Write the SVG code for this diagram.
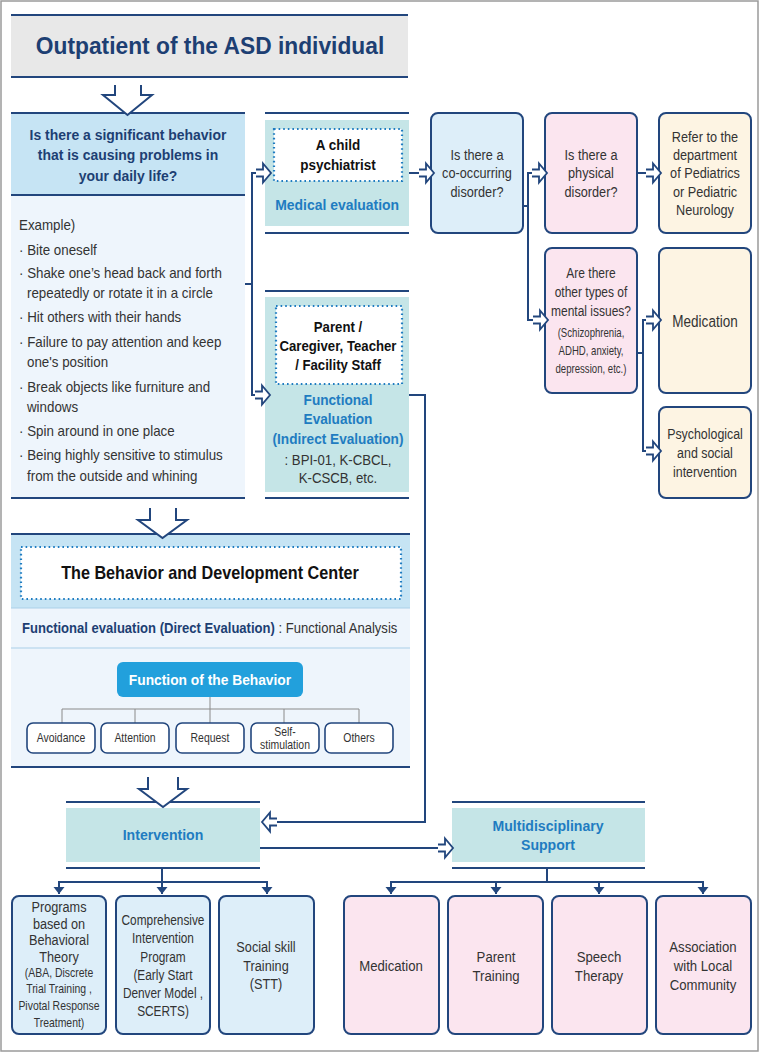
<svg xmlns="http://www.w3.org/2000/svg" width="763" height="1053" viewBox="0 0 763 1053">
<style>
text{font-family:"Liberation Sans",Arial,sans-serif;}
.c{text-anchor:middle}
.reg{fill:#333;font-size:15px}
.sm{fill:#333;font-size:12px}
.bk{fill:#111;font-size:15px;font-weight:bold}
.bl{fill:#1f7cc1;font-size:15.5px;font-weight:bold}
.nv{fill:#1d3f73;font-weight:bold}
.hl{stroke:#22467d;stroke-width:2.2;fill:none}
.lt{stroke:#a9cfe8;stroke-width:1.2;fill:none}
.con{stroke:#22467d;stroke-width:2;fill:none}
.box{stroke:#22467d;stroke-width:2}
.dot{fill:#fff;stroke:#1f7cc1;stroke-width:2.2;stroke-dasharray:1.6 3}
.tree{stroke:#8a8a8a;stroke-width:1;fill:none}
.sb{fill:#fff;stroke:#22467d;stroke-width:1.6}
.bigarrow{fill:#fff;stroke:#22467d;stroke-width:2;stroke-linejoin:miter}
.ex{fill:#333;font-size:14.5px}
</style>
<defs>
<marker id="ha" markerUnits="userSpaceOnUse" orient="auto" viewBox="-17 -12 19 24" refX="0" refY="0" markerWidth="19" markerHeight="24" overflow="visible">
<path d="M-15,-3.5 L-8,-3.5 L-8,-9.5 L0,0 L-8,9.5 L-8,3.5 L-15,3.5" fill="#fff" stroke="#22467d" stroke-width="1.8"/>
</marker>
<marker id="tri" markerUnits="userSpaceOnUse" orient="auto" viewBox="-8 -6 9 12" refX="0" refY="0" markerWidth="9" markerHeight="12" overflow="visible">
<path d="M-7,-5.5 L0,0 L-7,5.5 z" fill="#22467d"/>
</marker>
</defs>

<rect x="1" y="1" width="757" height="1050" fill="#fff" stroke="#9a9a9a" stroke-width="1.5"/>

<g id="title">
<rect x="11" y="15" width="397" height="62" fill="#e8e8e8"/>
<line class="hl" x1="11" y1="15" x2="408" y2="15"/>
<line class="hl" x1="11" y1="77" x2="408" y2="77"/>
<g transform="translate(210 0) scale(0.95 1)">
<text x="0" y="54" class="c nv" style="font-size:24px">Outpatient of the ASD individual</text>
</g>
</g>

<g id="question">
<rect x="11" y="114" width="234" height="81" fill="#c6e4f4"/>
<rect x="11" y="196" width="234" height="302" fill="#eef5fc"/>
<line class="hl" x1="11" y1="113" x2="245" y2="113"/>
<line class="hl" x1="11" y1="195" x2="245" y2="195"/>
<line class="hl" x1="11" y1="498" x2="245" y2="498"/>
<g transform="translate(128 0) scale(0.9 1)">
<text class="c nv" style="font-size:15.5px" x="0" y="140">Is there a significant behavior</text>
<text class="c nv" style="font-size:15.5px" x="0" y="160">that is causing problems in</text>
<text class="c nv" style="font-size:15.5px" x="0" y="181">your daily life?</text>
</g>
<g transform="translate(19 0) scale(0.92 1)">
<text class="ex" x="0" y="230">Example)</text>
<text class="ex" x="0" y="255">· Bite oneself</text>
<text class="ex" x="0" y="278">· Shake one’s head back and forth</text>
<text class="ex" x="8.7" y="298">repeatedly or rotate it in a circle</text>
<text class="ex" x="0" y="322">· Hit others with their hands</text>
<text class="ex" x="0" y="347">· Failure to pay attention and keep</text>
<text class="ex" x="8.7" y="367">one's position</text>
<text class="ex" x="0" y="392">· Break objects like furniture and</text>
<text class="ex" x="8.7" y="412">windows</text>
<text class="ex" x="0" y="436">· Spin around in one place</text>
<text class="ex" x="0" y="460">· Being highly sensitive to stimulus</text>
<text class="ex" x="8.7" y="481">from the outside and whining</text>
</g>
</g>

<g id="medical">
<rect x="265" y="120" width="144" height="106" fill="#c5e5e7"/>
<line class="hl" x1="265" y1="113" x2="409" y2="113"/>
<line class="hl" x1="265" y1="233" x2="409" y2="233"/>
<rect class="dot" x="274" y="129" width="128" height="52"/>
<g transform="translate(338 0) scale(0.9 1)">
<text class="c bk" x="0" y="150">A child</text>
<text class="c bk" x="0" y="170">psychiatrist</text>
<text class="c bl" x="-1" y="210">Medical evaluation</text>
</g>
</g>

<g id="functional">
<rect x="265" y="297" width="144" height="195" fill="#c5e5e7"/>
<line class="hl" x1="265" y1="291" x2="409" y2="291"/>
<line class="hl" x1="265" y1="498" x2="409" y2="498"/>
<rect class="dot" x="276" y="306" width="126" height="78"/>
<g transform="translate(338 0) scale(0.88 1)">
<text class="c bk" x="0" y="332">Parent /</text>
<text class="c bk" x="0" y="351">Caregiver, Teacher</text>
<text class="c bk" x="0" y="370">/ Facility Staff</text>
<text class="c bl" x="0" y="405">Functional</text>
<text class="c bl" x="0" y="424">Evaluation</text>
<text class="c bl" x="0" y="444">(Indirect Evaluation)</text>
<text class="c reg" x="0" y="465">: BPI-01, K-CBCL,</text>
<text class="c reg" x="0" y="483">K-CSCB, etc.</text>
</g>
</g>

<g id="cooccurring">
<rect class="box" x="431" y="113" width="92" height="120" rx="7" fill="#ddeef9"/>
<g transform="translate(477 0) scale(0.82 1)">
<text class="c reg" x="0" y="160" style="font-size:15.5px">Is there a</text>
<text class="c reg" x="0" y="178" style="font-size:15.5px">co-occurring</text>
<text class="c reg" x="0" y="197" style="font-size:15.5px">disorder?</text>
</g>
</g>

<g id="physical">
<rect class="box" x="545" y="113" width="92" height="120" rx="7" fill="#fbe5ef"/>
<g transform="translate(591 0) scale(0.82 1)">
<text class="c reg" x="0" y="160" style="font-size:15.5px">Is there a</text>
<text class="c reg" x="0" y="178" style="font-size:15.5px">physical</text>
<text class="c reg" x="0" y="197" style="font-size:15.5px">disorder?</text>
</g>
</g>

<g id="refer">
<rect class="box" x="659" y="113" width="92" height="120" rx="7" fill="#fdf4e3"/>
<g transform="translate(705 0) scale(0.82 1)">
<text class="c reg" x="0" y="142" style="font-size:15.5px">Refer to the</text>
<text class="c reg" x="0" y="160" style="font-size:15.5px">department</text>
<text class="c reg" x="0" y="178" style="font-size:15.5px">of Pediatrics</text>
<text class="c reg" x="0" y="197" style="font-size:15.5px">or Pediatric</text>
<text class="c reg" x="0" y="215" style="font-size:15.5px">Neurology</text>
</g>
</g>

<g id="mental">
<rect class="box" x="545" y="248" width="92" height="145" rx="7" fill="#fbe5ef"/>
<g transform="translate(591 0) scale(0.8 1)">
<text class="c reg" x="0" y="278">Are there</text>
<text class="c reg" x="0" y="297">other types of</text>
<text class="c reg" x="0" y="316">mental issues?</text>
<text class="c sm" x="0" y="337">(Schizophrenia,</text>
<text class="c sm" x="0" y="355">ADHD, anxiety,</text>
<text class="c sm" x="0" y="373">depression, etc.)</text>
</g>
</g>

<g id="medication1">
<rect class="box" x="659" y="248" width="92" height="145" rx="7" fill="#fdf4e3"/>
<g transform="translate(705 0) scale(0.82 1)">
<text class="c reg" x="0" y="327" style="font-size:16.5px">Medication</text>
</g>
</g>

<g id="psychological">
<rect class="box" x="659" y="407" width="92" height="91" rx="7" fill="#fdf4e3"/>
<g transform="translate(705 0) scale(0.8 1)">
<text class="c reg" x="0" y="439" style="font-size:15.5px">Psychological</text>
<text class="c reg" x="0" y="458" style="font-size:15.5px">and social</text>
<text class="c reg" x="0" y="477" style="font-size:15.5px">intervention</text>
</g>
</g>

<g id="center">
<rect x="11" y="535" width="399" height="73" fill="#c6e4f4"/>
<rect x="11" y="608" width="399" height="159" fill="#eef5fc"/>
<line class="hl" x1="11" y1="534" x2="410" y2="534"/>
<line class="lt" x1="11" y1="608" x2="410" y2="608"/>
<line class="lt" x1="11" y1="648" x2="410" y2="648"/>
<line class="hl" x1="11" y1="767" x2="410" y2="767"/>
<rect class="dot" x="21" y="547" width="380" height="52"/>
<g transform="translate(210 0) scale(0.9 1)">
<text class="c" x="0" y="579" style="font-size:18px;font-weight:bold;fill:#111">The Behavior and Development Center</text>
</g>
<g transform="translate(22 0) scale(0.9 1)">
<text x="0" y="633" style="font-size:14.5px"><tspan style="font-weight:bold;fill:#1d3f73">Functional evaluation (Direct Evaluation)</tspan><tspan style="fill:#333"> : Functional Analysis</tspan></text>
</g>
</g>

<g id="function">
<rect x="117" y="662" width="186" height="35" rx="6" fill="#22a0dc"/>
<g transform="translate(210 0) scale(0.89 1)">
<text class="c" x="0" y="685" style="font-size:15.5px;font-weight:bold;fill:#fff">Function of the Behavior</text>
</g>
<path class="tree" d="M210,697 V709 M62,709 H359 M62,709 V723 M135,709 V723 M210,709 V723 M284,709 V723 M359,709 V723"/>
</g>
<g id="avoidance"><rect class="sb" x="27" y="723" width="68" height="30" rx="6"/><g transform="translate(61 0) scale(0.87 1)"><text class="c sm" x="0" y="742" style="font-size:12px">Avoidance</text></g></g>
<g id="attention"><rect class="sb" x="101" y="723" width="68" height="30" rx="6"/><g transform="translate(135 0) scale(0.87 1)"><text class="c sm" x="0" y="742" style="font-size:12px">Attention</text></g></g>
<g id="request"><rect class="sb" x="176" y="723" width="68" height="30" rx="6"/><g transform="translate(210 0) scale(0.87 1)"><text class="c sm" x="0" y="742" style="font-size:12px">Request</text></g></g>
<g id="selfstim"><rect class="sb" x="251" y="723" width="68" height="30" rx="6"/><g transform="translate(285 0) scale(0.87 1)"><text class="c sm" x="0" y="736" style="font-size:12px">Self-</text><text class="c sm" x="0" y="749" style="font-size:12px">stimulation</text></g></g>
<g id="others"><rect class="sb" x="325" y="723" width="68" height="30" rx="6"/><g transform="translate(359 0) scale(0.87 1)"><text class="c sm" x="0" y="742" style="font-size:12px">Others</text></g></g>

<g id="intervention">
<rect x="66" y="808" width="194" height="54" fill="#c5e5e7"/>
<line class="hl" x1="66" y1="802" x2="260" y2="802"/>
<line class="hl" x1="66" y1="868" x2="260" y2="868"/>
<g transform="translate(163 0) scale(0.91 1)">
<text class="c bl" x="0" y="840">Intervention</text>
</g>
</g>

<g id="multidisciplinary">
<rect x="452" y="808" width="193" height="54" fill="#c5e5e7"/>
<line class="hl" x1="452" y1="802" x2="645" y2="802"/>
<line class="hl" x1="452" y1="868" x2="645" y2="868"/>
<g transform="translate(548 0) scale(0.91 1)">
<text class="c bl" x="0" y="831">Multidisciplinary</text>
<text class="c bl" x="0" y="850">Support</text>
</g>
</g>

<g id="programs">
<rect class="box" x="12" y="896" width="94" height="138" rx="7" fill="#ddeef9"/>
<g transform="translate(59 0) scale(0.82 1)">
<text class="c reg" x="0" y="912" style="font-size:15.5px">Programs</text>
<text class="c reg" x="0" y="929" style="font-size:15.5px">based on</text>
<text class="c reg" x="0" y="945" style="font-size:15.5px">Behavioral</text>
<text class="c reg" x="0" y="962" style="font-size:15.5px">Theory</text>
</g>
<g transform="translate(59 0) scale(0.87 1)">
<text class="c sm" x="0" y="977">(ABA, Discrete</text>
<text class="c sm" x="0" y="993">Trial Training ,</text>
<text class="c sm" x="0" y="1010">Pivotal Response</text>
<text class="c sm" x="0" y="1027">Treatment)</text>
</g>
</g>
<g id="comprehensive">
<rect class="box" x="116" y="896" width="94" height="138" rx="7" fill="#ddeef9"/>
<g transform="translate(163 0) scale(0.79 1)">
<text class="c reg" x="0" y="925">Comprehensive</text>
<text class="c reg" x="0" y="943">Intervention</text>
<text class="c reg" x="0" y="962">Program</text>
<text class="c reg" x="0" y="980">(Early Start</text>
<text class="c reg" x="0" y="998">Denver Model ,</text>
<text class="c reg" x="0" y="1016">SCERTS)</text>
</g>
</g>
<g id="social">
<rect class="box" x="219" y="896" width="95" height="138" rx="7" fill="#ddeef9"/>
<g transform="translate(266 0) scale(0.82 1)">
<text class="c reg" x="0" y="952" style="font-size:15.5px">Social skill</text>
<text class="c reg" x="0" y="971" style="font-size:15.5px">Training</text>
<text class="c reg" x="0" y="989" style="font-size:15.5px">(STT)</text>
</g>
</g>

<g id="medication2">
<rect class="box" x="344" y="896" width="95" height="138" rx="7" fill="#fbe5ef"/>
<g transform="translate(391 0) scale(0.85 1)">
<text class="c reg" x="0" y="971" style="font-size:15.5px">Medication</text>
</g>
</g>
<g id="parent">
<rect class="box" x="448" y="896" width="95" height="138" rx="7" fill="#fbe5ef"/>
<g transform="translate(496 0) scale(0.85 1)">
<text class="c reg" x="0" y="962" style="font-size:15.5px">Parent</text>
<text class="c reg" x="0" y="981" style="font-size:15.5px">Training</text>
</g>
</g>
<g id="speech">
<rect class="box" x="552" y="896" width="95" height="138" rx="7" fill="#fbe5ef"/>
<g transform="translate(599 0) scale(0.85 1)">
<text class="c reg" x="0" y="962" style="font-size:15.5px">Speech</text>
<text class="c reg" x="0" y="981" style="font-size:15.5px">Therapy</text>
</g>
</g>
<g id="association">
<rect class="box" x="656" y="896" width="95" height="138" rx="7" fill="#fbe5ef"/>
<g transform="translate(703 0) scale(0.85 1)">
<text class="c reg" x="0" y="952" style="font-size:15.5px">Association</text>
<text class="c reg" x="0" y="971" style="font-size:15.5px">with Local</text>
<text class="c reg" x="0" y="990" style="font-size:15.5px">Community</text>
</g>
</g>

<g id="connectors">
<path class="bigarrow" d="M115,85 V95 H103 L127.5,115 L152,95 H141 V85"/>
<path class="bigarrow" d="M150,508 V520 H138 L162.5,538 L187,520 H176 V508"/>
<path class="bigarrow" d="M148,777 V789 H139 L163,807 L187,789 H178 V777"/>
<path class="con" d="M245,284 H252 V173 H271" marker-end="url(#ha)"/>
<path class="con" d="M252,284 V395 H270" marker-end="url(#ha)"/>
<path class="con" d="M409,173 H434" marker-end="url(#ha)"/>
<path class="con" d="M523,206 H528 V173 H547" marker-end="url(#ha)"/>
<path class="con" d="M528,206 V320 H548" marker-end="url(#ha)"/>
<path class="con" d="M637,173 H661" marker-end="url(#ha)"/>
<path class="con" d="M637,353 H643 V320 H661" marker-end="url(#ha)"/>
<path class="con" d="M643,353 V451 H661" marker-end="url(#ha)"/>
<path class="con" d="M409,395 H425 V822 H262" marker-end="url(#ha)"/>
<path class="con" d="M260,848 H453" marker-end="url(#ha)"/>
<path class="con" d="M162,868 V882 M59,882 H267"/>
<path class="con" d="M59,881 V894" marker-end="url(#tri)"/>
<path class="con" d="M162,881 V894" marker-end="url(#tri)"/>
<path class="con" d="M267,881 V894" marker-end="url(#tri)"/>
<path class="con" d="M547,868 V882 M391,882 H703"/>
<path class="con" d="M391,881 V894" marker-end="url(#tri)"/>
<path class="con" d="M496,881 V894" marker-end="url(#tri)"/>
<path class="con" d="M599,881 V894" marker-end="url(#tri)"/>
<path class="con" d="M703,881 V894" marker-end="url(#tri)"/>
</g>
</svg>
